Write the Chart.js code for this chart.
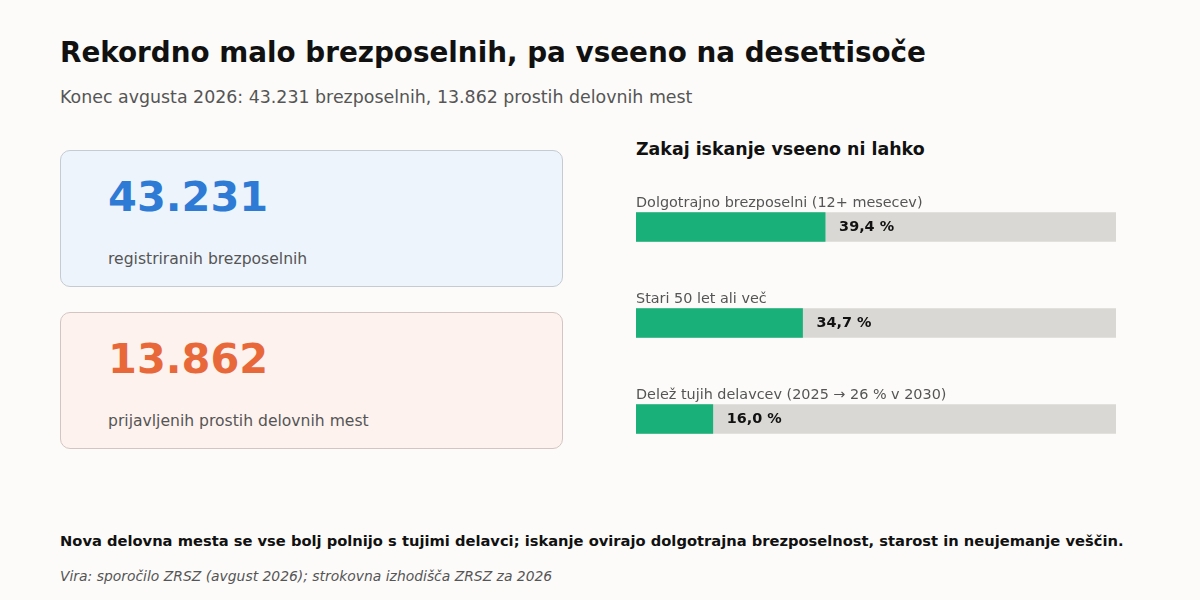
<!DOCTYPE html>
<html>
<head>
<meta charset="utf-8">
<script src="https://cdn.jsdelivr.net/npm/chart.js@4"></script>
<style>
  body { margin: 0; width: 1200px; height: 600px; background: #fcfbf9; font-family: "DejaVu Sans", sans-serif; position: relative; overflow: hidden; }
  .abs { position: absolute; }
  h1 { position: absolute; left: 60px; top: 36px; margin: 0; font-size: 27.8px; color: #111; }
  .sub { left: 60px; top: 87px; font-size: 17.4px; color: #555; }
  .card { left: 60px; width: 501px; height: 135px; border-radius: 10px; }
  .num { position: absolute; left: 47px; top: 21px; font-size: 41.5px; font-weight: bold; }
  .lbl { position: absolute; left: 47px; top: 99px; font-size: 15.6px; color: #555; }
  .head { left: 636px; top: 139px; font-size: 17.4px; font-weight: bold; color: #111; }
  .note { left: 60px; top: 532px; font-size: 14.7px; font-weight: bold; color: #111; }
  .src { left: 60px; top: 568px; font-size: 13.9px; font-style: italic; color: #555; }
</style>
</head>
<body>
<h1>Rekordno malo brezposelnih, pa vseeno na desettisoče</h1>
<div class="abs sub">Konec avgusta 2026: 43.231 brezposelnih, 13.862 prostih delovnih mest</div>

<div class="abs card" style="top:150px;background:#edf4fc;border:1.5px solid #c5cbd3;">
  <div class="num" style="color:#2e7bd6;">43.231</div>
  <div class="lbl">registriranih brezposelnih</div>
</div>
<div class="abs card" style="top:312px;background:#fdf2ee;border:1.5px solid #d3c6c2;">
  <div class="num" style="color:#e8683a;">13.862</div>
  <div class="lbl">prijavljenih prostih delovnih mest</div>
</div>

<div class="abs head">Zakaj iskanje vseeno ni lahko</div>
<div class="abs" style="left:636px;top:178.5px;width:480px;height:288px;">
  <canvas id="bars"></canvas>
</div>

<div class="abs note">Nova delovna mesta se vse bolj polnijo s tujimi delavci; iskanje ovirajo dolgotrajna brezposelnost, starost in neujemanje veščin.</div>
<div class="abs src">Vira: sporočilo ZRSZ (avgust 2026); strokovna izhodišča ZRSZ za 2026</div>

<script>
const categories = ['Dolgotrajno brezposelni (12+ mesecev)', 'Stari 50 let ali več', 'Delež tujih delavcev (2025 → 26 % v 2030)'];
const shares = [39.4, 34.7, 16.0];
const track = [100, 100, 100];

// napisi nad stolpci in vrednosti ob koncu
const barLabels = {
  id: 'barLabels',
  afterDatasetsDraw(chart) {
    const ctx = chart.ctx;
    const meta = chart.getDatasetMeta(0);
    const left = chart.scales.x.left;
    ctx.save();
    ctx.textBaseline = 'middle';
    meta.data.forEach((bar, i) => {
      ctx.font = '14.4px "DejaVu Sans"';
      ctx.fillStyle = '#555';
      ctx.textAlign = 'left';
      ctx.fillText(categories[i], left, bar.y - 24);
      ctx.font = 'bold 14.4px "DejaVu Sans"';
      ctx.fillStyle = '#111';
      ctx.fillText(shares[i].toFixed(1).replace('.', ',') + ' %', bar.x + 14, bar.y + 0.5);
    });
    ctx.restore();
  }
};

new Chart(document.getElementById('bars'), {
  type: 'bar',
  data: {
    labels: categories,
    datasets: [
      { data: shares, backgroundColor: '#1ab07a', barThickness: 29, grouped: false },
      { data: track, backgroundColor: '#dad8d4', barThickness: 29, grouped: false },
    ],
  },
  options: {
    indexAxis: 'y',
    responsive: true,
    maintainAspectRatio: false,
    animation: false,
    layout: { padding: 0 },
    scales: {
      x: { min: 0, max: 100, display: false },
      y: { display: false },
    },
    plugins: { legend: { display: false }, tooltip: { enabled: false } },
  },
  plugins: [barLabels],
});
</script>
</body>
</html>
